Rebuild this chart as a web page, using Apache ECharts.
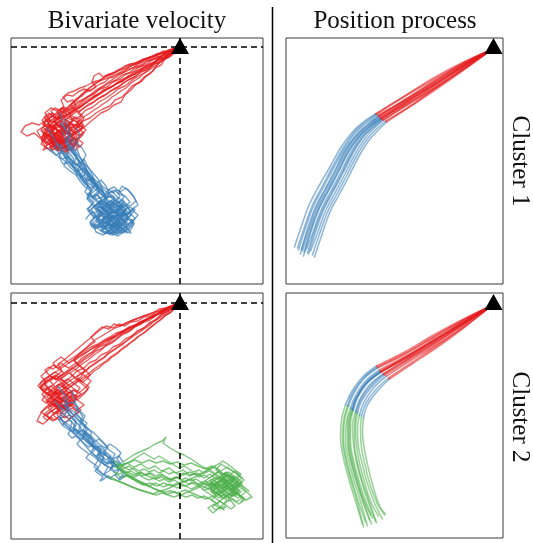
<!DOCTYPE html>
<html>
<head>
<meta charset="utf-8">
<script src="https://cdn.jsdelivr.net/npm/echarts@6/dist/echarts.min.js"></script>
<style>html,body{margin:0;padding:0;background:#fff}#c{width:533px;height:543px}</style>
</head>
<body>
<div id="c"></div>
<script>
// ---------- titles / labels ----------
const panelTitles = ['Bivariate velocity', 'Position process'];
const rowLabels = ['Cluster 1', 'Cluster 2'];

// ---------- Cluster 1: velocity trajectories (red phase, blue phase) ----------
const velC1Red = [
 [[0,0],[-6,-2],[-12,-5],[-17,-4],[-24,-8],[-30,-10],[-37,-13],[-43,-17],[-50,-19],[-57,-24],[-63,-27],[-70,-30],[-78,-33],[-85,-36],[-91,-42],[-97,-47],[-104,-52],[-110,-58],[-116,-63],[-121,-70],[-128,-66],[-134,-72],[-129,-79],[-136,-85],[-130,-91],[-123,-86],[-117,-93],[-110,-88],[-116,-80],[-124,-78],[-127,-82],[-131,-85],[-128,-89],[-124,-87],[-120,-90],[-116,-88],[-112,-91],[-115,-95],[-119,-93],[-123,-96],[-126,-100],[-122,-102],[-120,-97]],
 [[0,0],[-4,-5],[-9,-9],[-15,-12],[-19,-18],[-25,-21],[-30,-27],[-36,-30],[-41,-36],[-48,-39],[-53,-45],[-58,-50],[-65,-53],[-70,-59],[-77,-62],[-84,-66],[-90,-71],[-97,-74],[-103,-79],[-110,-77],[-115,-84],[-109,-90],[-102,-95],[-108,-101],[-115,-98],[-122,-104],[-128,-99],[-125,-91],[-132,-88],[-138,-94],[-135,-90],[-131,-93],[-127,-90],[-123,-93],[-119,-90],[-115,-93],[-118,-97],[-122,-95],[-126,-98],[-130,-96],[-134,-99],[-137,-103],[-133,-101]],
 [[0,0],[-7,-3],[-13,-7],[-20,-10],[-26,-15],[-33,-18],[-39,-22],[-46,-25],[-52,-30],[-59,-33],[-66,-38],[-72,-42],[-79,-46],[-86,-50],[-93,-55],[-99,-60],[-106,-63],[-113,-68],[-120,-71],[-127,-75],[-134,-73],[-141,-78],[-148,-76],[-155,-79],[-159,-85],[-153,-89],[-146,-86],[-140,-91],[-134,-86],[-128,-90],[-122,-84],[-127,-79],[-124,-83],[-120,-86],[-116,-83],[-112,-86],[-108,-83],[-111,-79],[-115,-77],[-119,-80],[-123,-77],[-126,-73],[-122,-70],[-118,-73],[-120,-76]],
 [[0,0],[-5,-1],[-11,-3],[-18,-6],[-24,-7],[-31,-11],[-37,-12],[-44,-16],[-51,-18],[-57,-21],[-64,-25],[-71,-27],[-77,-30],[-81,-26],[-86,-29],[-88,-35],[-84,-40],[-90,-44],[-96,-42],[-102,-45],[-107,-49],[-113,-48],[-119,-53],[-116,-60],[-123,-64],[-129,-61],[-135,-66],[-131,-73],[-124,-76],[-118,-73],[-112,-79],[-117,-86],[-124,-90],[-130,-84],[-137,-88],[-133,-95],[-129,-92],[-125,-95],[-121,-92],[-117,-95],[-113,-92],[-109,-95],[-112,-99],[-116,-101],[-120,-98],[-124,-101],[-128,-103],[-130,-100],[-126,-99]],
 [[0,0],[-6,-4],[-11,-10],[-17,-13],[-23,-18],[-27,-24],[-33,-28],[-38,-34],[-44,-37],[-49,-43],[-55,-48],[-59,-55],[-66,-58],[-72,-63],[-79,-66],[-85,-71],[-91,-76],[-97,-81],[-104,-85],[-110,-91],[-116,-96],[-123,-100],[-129,-104],[-135,-99],[-139,-92],[-133,-87],[-127,-92],[-121,-88],[-114,-92],[-108,-97],[-102,-92],[-98,-86],[-101,-89],[-105,-86],[-109,-83],[-113,-86],[-117,-83],[-121,-80],[-118,-76],[-114,-79],[-110,-76],[-106,-73],[-102,-76],[-100,-79],[-104,-81]],
 [[0,0],[-8,-4],[-14,-6],[-21,-11],[-28,-13],[-34,-18],[-41,-20],[-47,-25],[-54,-27],[-60,-32],[-67,-35],[-73,-40],[-80,-42],[-86,-47],[-93,-50],[-100,-55],[-106,-59],[-112,-64],[-118,-68],[-112,-74],[-105,-78],[-99,-73],[-96,-80],[-102,-86],[-108,-82],[-114,-87],[-121,-83],[-127,-88],[-122,-95],[-115,-100],[-109,-104],[-106,-100],[-110,-97],[-114,-94],[-118,-97],[-122,-94],[-126,-97],[-123,-101],[-119,-103],[-115,-100],[-112,-103],[-116,-105],[-113,-106]],
 [[0,0],[-5,-3],[-10,-7],[-16,-8],[-22,-13],[-27,-16],[-33,-20],[-40,-22],[-45,-27],[-52,-29],[-57,-34],[-64,-37],[-70,-41],[-77,-43],[-83,-49],[-89,-53],[-96,-57],[-102,-61],[-109,-66],[-115,-70],[-121,-75],[-128,-80],[-134,-77],[-139,-83],[-134,-90],[-139,-97],[-132,-102],[-126,-97],[-119,-101],[-113,-104],[-118,-104],[-121,-100],[-125,-97],[-129,-94],[-125,-91],[-121,-94],[-117,-91],[-113,-94],[-109,-97],[-106,-100],[-109,-103],[-114,-101],[-111,-106]],
 [[0,0],[-7,-2],[-14,-5],[-20,-7],[-27,-10],[-33,-12],[-40,-15],[-47,-18],[-53,-21],[-60,-23],[-67,-27],[-74,-29],[-80,-33],[-87,-35],[-94,-39],[-100,-41],[-106,-44],[-112,-46],[-117,-50],[-113,-55],[-107,-53],[-104,-59],[-110,-63],[-117,-60],[-123,-65],[-119,-71],[-126,-75],[-132,-80],[-138,-84],[-133,-89],[-127,-85],[-121,-90],[-124,-87],[-128,-90],[-132,-93],[-128,-96],[-124,-94],[-120,-97],[-116,-94],[-112,-91],[-108,-94],[-111,-98],[-114,-100],[-115,-95]],
 [[0,0],[-6,-5],[-13,-8],[-18,-14],[-25,-17],[-31,-22],[-36,-26],[-43,-30],[-49,-34],[-55,-39],[-62,-42],[-68,-47],[-74,-51],[-81,-55],[-87,-60],[-94,-63],[-100,-69],[-107,-73],[-113,-78],[-119,-82],[-125,-86],[-131,-82],[-137,-77],[-131,-71],[-125,-67],[-119,-64],[-113,-68],[-107,-72],[-101,-77],[-106,-84],[-111,-90],[-117,-94],[-123,-98],[-119,-101],[-115,-98],[-111,-101],[-107,-98],[-103,-95],[-106,-91],[-110,-94],[-114,-91],[-118,-94],[-122,-91],[-126,-94],[-130,-97],[-129,-102]],
 [[0,0],[-7,-4],[-12,-9],[-19,-12],[-26,-16],[-31,-21],[-38,-24],[-44,-29],[-50,-32],[-57,-36],[-63,-41],[-70,-44],[-76,-49],[-83,-52],[-89,-57],[-96,-61],[-102,-66],[-96,-71],[-100,-78],[-94,-83],[-100,-89],[-107,-85],[-113,-80],[-120,-85],[-126,-79],[-132,-85],[-137,-80],[-143,-84],[-139,-91],[-133,-96],[-127,-93],[-121,-98],[-118,-94],[-114,-91],[-110,-88],[-106,-91],[-102,-94],[-105,-98],[-109,-96],[-113,-99],[-117,-97],[-121,-100],[-124,-103],[-117,-104]],
 [[0,0],[-6,-3],[-12,-4],[-19,-9],[-25,-11],[-32,-14],[-38,-19],[-45,-21],[-51,-26],[-58,-28],[-64,-33],[-71,-36],[-77,-40],[-84,-43],[-90,-48],[-96,-52],[-103,-55],[-109,-60],[-115,-64],[-121,-69],[-127,-73],[-122,-79],[-116,-84],[-122,-90],[-129,-95],[-124,-101],[-118,-96],[-121,-92],[-125,-89],[-129,-86],[-133,-83],[-130,-79],[-126,-82],[-122,-79],[-118,-82],[-114,-85],[-110,-88],[-107,-92],[-110,-96],[-112,-100]],
 [[0,0],[-5,-4],[-11,-6],[-16,-11],[-23,-13],[-28,-18],[-35,-21],[-41,-25],[-47,-28],[-54,-32],[-60,-35],[-67,-39],[-73,-42],[-80,-46],[-86,-49],[-93,-53],[-99,-58],[-105,-62],[-111,-67],[-107,-74],[-113,-78],[-119,-75],[-125,-70],[-131,-66],[-136,-70],[-131,-77],[-126,-83],[-131,-89],[-125,-94],[-119,-91],[-115,-88],[-111,-85],[-107,-88],[-103,-85],[-100,-81],[-104,-78],[-108,-81],[-112,-78],[-116,-81],[-120,-84],[-124,-87],[-127,-92],[-124,-97]],
 [[0,0],[-5,-3],[-9,-5],[-14,-6],[-18,-9],[-23,-10],[-28,-13],[-33,-14],[-37,-17],[-42,-19],[-47,-21],[-52,-22],[-56,-25],[-61,-27],[-66,-30],[-71,-31],[-75,-35],[-80,-37],[-85,-40],[-89,-43],[-94,-45],[-98,-49],[-103,-52],[-107,-56],[-111,-60],[-114,-64],[-118,-62],[-121,-66],[-119,-70],[-124,-72],[-127,-69],[-131,-71],[-129,-76],[-125,-79],[-121,-77],[-117,-80],[-113,-78],[-110,-82],[-114,-85],[-118,-88],[-122,-86],[-126,-89],[-129,-93],[-125,-96],[-121,-94],[-117,-97],[-113,-95],[-109,-92],[-105,-95],[-102,-91],[-106,-87],[-103,-83],[-107,-79],[-111,-75],[-115,-72]],
 [[0,0],[-4,-4],[-8,-7],[-13,-9],[-17,-12],[-21,-15],[-26,-17],[-30,-20],[-34,-23],[-39,-25],[-43,-28],[-47,-31],[-52,-33],[-56,-36],[-60,-39],[-65,-41],[-69,-44],[-73,-47],[-78,-49],[-82,-52],[-86,-55],[-91,-57],[-95,-60],[-99,-63],[-104,-65],[-108,-68],[-112,-71],[-116,-74],[-113,-78],[-117,-81],[-121,-79],[-125,-82],[-128,-85],[-132,-83],[-135,-87],[-132,-90],[-128,-92],[-124,-91],[-120,-94],[-116,-92],[-112,-95],[-108,-98],[-104,-96],[-101,-99],[-104,-103],[-108,-101],[-112,-103],[-116,-100],[-120,-102],[-124,-99],[-128,-101],[-131,-97],[-135,-95],[-138,-91],[-136,-86],[-133,-81]],
 [[0,0],[-5,-2],[-10,-4],[-15,-5],[-20,-7],[-25,-9],[-30,-10],[-35,-12],[-40,-14],[-45,-16],[-50,-17],[-55,-19],[-60,-22],[-64,-24],[-69,-27],[-73,-29],[-78,-32],[-82,-35],[-86,-38],[-91,-41],[-95,-44],[-99,-48],[-102,-52],[-106,-55],[-110,-58],[-106,-62],[-102,-65],[-98,-68],[-101,-72],[-105,-70],[-109,-73],[-113,-70],[-117,-68],[-121,-71],[-125,-74],[-122,-78],[-118,-80],[-114,-83],[-117,-87],[-121,-85],[-125,-88],[-129,-86],[-133,-90],[-136,-94],[-133,-98],[-129,-96],[-125,-99],[-121,-97],[-117,-101],[-113,-99],[-109,-96],[-106,-92],[-109,-88],[-113,-91]],
 [[0,0],[-4,-3],[-9,-6],[-13,-8],[-18,-11],[-22,-13],[-27,-16],[-31,-18],[-36,-21],[-40,-24],[-45,-26],[-49,-29],[-54,-31],[-58,-34],[-63,-36],[-67,-39],[-72,-41],[-76,-44],[-80,-47],[-85,-49],[-89,-52],[-93,-55],[-97,-58],[-101,-61],[-105,-64],[-109,-67],[-113,-64],[-117,-61],[-121,-63],[-125,-61],[-129,-64],[-126,-68],[-130,-71],[-134,-74],[-137,-78],[-133,-80],[-129,-78],[-125,-81],[-121,-84],[-117,-87],[-113,-85],[-109,-88],[-105,-86],[-101,-84],[-98,-80],[-102,-77],[-106,-79],[-110,-77],[-114,-80],[-118,-78],[-122,-75],[-126,-78],[-130,-81],[-128,-85],[-124,-88],[-120,-91],[-124,-94],[-128,-97],[-124,-100],[-120,-103]],
 [[0,0],[-5,-4],[-10,-8],[-14,-11],[-19,-14],[-23,-18],[-28,-21],[-32,-24],[-37,-27],[-41,-31],[-46,-34],[-50,-37],[-54,-41],[-59,-44],[-63,-47],[-68,-50],[-72,-54],[-77,-57],[-81,-60],[-86,-63],[-90,-66],[-95,-69],[-99,-72],[-103,-75],[-100,-79],[-104,-82],[-108,-80],[-112,-83],[-109,-87],[-105,-90],[-101,-93],[-97,-96],[-100,-100],[-104,-98],[-108,-101],[-112,-104],[-116,-101],[-120,-98],[-124,-95],[-121,-91],[-117,-89],[-120,-85],[-124,-82],[-128,-80],[-132,-77],[-129,-73],[-125,-70],[-121,-72],[-117,-70],[-113,-67],[-116,-64],[-120,-66]],
 [[0,0],[-6,-2],[-11,-3],[-16,-6],[-22,-7],[-27,-10],[-32,-12],[-37,-15],[-42,-17],[-46,-20],[-51,-23],[-56,-25],[-61,-28],[-65,-31],[-70,-34],[-74,-37],[-79,-40],[-83,-44],[-87,-47],[-92,-50],[-96,-53],[-100,-57],[-104,-60],[-108,-63],[-112,-66],[-108,-69],[-104,-72],[-100,-75],[-97,-79],[-100,-83],[-96,-86],[-99,-90],[-103,-93],[-107,-91],[-111,-94],[-115,-97],[-119,-95],[-123,-92],[-127,-95],[-131,-93],[-134,-89],[-130,-86],[-127,-83],[-131,-80],[-135,-77],[-138,-73],[-134,-70],[-130,-67],[-126,-70],[-122,-67],[-118,-71],[-114,-74],[-110,-78],[-114,-81],[-118,-84]]
];
const velC1Blue = [
 [[-120,-97],[-114,-103],[-109,-100],[-104,-108],[-100,-115],[-96,-112],[-92,-120],[-88,-127],[-85,-135],[-79,-140],[-75,-148],[-68,-144],[-62,-151],[-70,-158],[-77,-155],[-83,-162],[-76,-168],[-68,-165],[-60,-170],[-55,-162],[-49,-168],[-56,-176],[-64,-180],[-72,-176],[-79,-183],[-71,-187],[-63,-184],[-58,-178],[-55,-174],[-59,-171],[-63,-168],[-67,-171],[-71,-168],[-75,-165],[-72,-161],[-68,-158],[-64,-161],[-60,-158],[-56,-155],[-60,-152],[-64,-149]],
 [[-133,-101],[-127,-106],[-121,-110],[-117,-117],[-111,-115],[-106,-121],[-103,-128],[-97,-132],[-92,-138],[-95,-145],[-89,-150],[-83,-147],[-78,-153],[-85,-159],[-91,-164],[-86,-171],[-79,-168],[-73,-174],[-80,-180],[-87,-177],[-84,-185],[-77,-188],[-70,-183],[-66,-176],[-73,-170],[-68,-162],[-61,-158],[-57,-161],[-54,-165],[-58,-168],[-62,-171],[-66,-168],[-70,-171],[-74,-168],[-78,-165],[-82,-162],[-79,-158],[-75,-155],[-71,-158]],
 [[-120,-76],[-115,-82],[-111,-89],[-114,-96],[-108,-102],[-103,-109],[-106,-116],[-100,-121],[-94,-126],[-90,-133],[-85,-139],[-80,-146],[-74,-151],[-67,-149],[-63,-156],[-57,-153],[-52,-160],[-58,-166],[-65,-163],[-71,-168],[-65,-175],[-58,-172],[-51,-177],[-55,-184],[-62,-189],[-69,-186],[-73,-183],[-77,-180],[-81,-177],[-78,-173],[-74,-170],[-70,-173],[-66,-170],[-62,-167],[-66,-164],[-70,-161],[-74,-158],[-78,-161]],
 [[-126,-99],[-122,-105],[-118,-112],[-112,-110],[-108,-117],[-102,-122],[-98,-129],[-93,-134],[-88,-131],[-84,-138],[-80,-145],[-86,-151],[-80,-156],[-73,-159],[-79,-165],[-85,-169],[-90,-175],[-84,-181],[-77,-179],[-71,-185],[-64,-181],[-60,-173],[-53,-170],[-47,-175],[-52,-182],[-59,-186],[-63,-183],[-67,-180],[-64,-176],[-60,-179],[-56,-176],[-52,-173],[-56,-170],[-60,-167],[-64,-170],[-68,-167],[-72,-164],[-69,-160]],
 [[-104,-81],[-100,-88],[-104,-95],[-98,-101],[-94,-108],[-98,-115],[-92,-120],[-87,-126],[-82,-132],[-78,-139],[-72,-143],[-66,-140],[-60,-145],[-54,-141],[-48,-147],[-44,-154],[-50,-159],[-57,-156],[-63,-162],[-58,-169],[-51,-166],[-45,-171],[-50,-178],[-57,-182],[-64,-178],[-70,-172],[-76,-176],[-80,-173],[-84,-170],[-80,-167],[-76,-164],[-72,-167],[-68,-164],[-64,-167],[-60,-164],[-63,-160],[-67,-157],[-71,-154],[-75,-151]],
 [[-113,-106],[-107,-116],[-101,-119],[-97,-125],[-91,-129],[-87,-136],[-82,-141],[-88,-146],[-93,-152],[-87,-158],[-80,-161],[-74,-157],[-68,-161],[-61,-166],[-67,-172],[-74,-169],[-81,-174],[-75,-180],[-68,-177],[-62,-183],[-56,-179],[-50,-184],[-46,-177],[-52,-172],[-58,-165],[-62,-162],[-66,-165],[-70,-162],[-74,-165],[-78,-162],[-75,-158],[-71,-155],[-67,-152],[-71,-149],[-75,-152],[-79,-155],[-83,-158]],
 [[-111,-106],[-106,-112],[-108,-119],[-102,-124],[-96,-121],[-91,-127],[-94,-134],[-88,-139],[-83,-144],[-77,-149],[-72,-154],[-78,-160],[-73,-166],[-66,-170],[-60,-165],[-54,-169],[-48,-163],[-42,-168],[-47,-174],[-54,-178],[-61,-175],[-68,-181],[-74,-185],[-68,-188],[-61,-186],[-58,-182],[-62,-179],[-66,-176],[-70,-179],[-74,-176],[-78,-173],[-75,-169],[-71,-172],[-67,-169],[-63,-172],[-59,-169],[-55,-166]],
 [[-115,-95],[-110,-101],[-114,-108],[-109,-113],[-104,-118],[-99,-115],[-94,-121],[-96,-128],[-91,-133],[-86,-140],[-90,-147],[-84,-152],[-77,-150],[-71,-146],[-65,-151],[-69,-158],[-63,-163],[-56,-160],[-50,-155],[-55,-149],[-62,-146],[-58,-139],[-52,-143],[-46,-150],[-42,-158],[-46,-161],[-50,-164],[-54,-167],[-58,-170],[-62,-167],[-66,-170],[-70,-167],[-74,-170],[-77,-174],[-73,-177],[-69,-180],[-65,-177]],
 [[-129,-102],[-124,-108],[-118,-105],[-113,-112],[-116,-119],[-110,-124],[-104,-128],[-100,-134],[-95,-140],[-89,-144],[-93,-151],[-87,-156],[-92,-162],[-86,-167],[-80,-172],[-86,-178],[-80,-183],[-73,-186],[-67,-181],[-71,-174],[-64,-170],[-58,-175],[-52,-169],[-57,-163],[-63,-158],[-69,-154],[-73,-157],[-77,-154],[-81,-157],[-78,-161],[-74,-164],[-70,-161],[-66,-164],[-62,-167],[-66,-170],[-70,-173],[-74,-176],[-70,-179]],
 [[-117,-104],[-112,-109],[-107,-114],[-101,-118],[-97,-124],[-100,-131],[-95,-137],[-89,-141],[-83,-138],[-78,-143],[-74,-150],[-80,-155],[-86,-160],[-82,-167],[-75,-170],[-69,-175],[-63,-171],[-57,-165],[-51,-160],[-45,-163],[-51,-170],[-57,-174],[-63,-179],[-56,-184],[-49,-186],[-54,-180],[-58,-177],[-62,-174],[-66,-171],[-70,-168],[-74,-165],[-78,-162],[-74,-159],[-70,-162],[-66,-159],[-62,-156],[-58,-159],[-54,-162]],
 [[-112,-100],[-108,-106],[-103,-111],[-99,-117],[-103,-124],[-98,-129],[-92,-134],[-87,-131],[-81,-136],[-77,-142],[-71,-147],[-76,-153],[-70,-158],[-64,-153],[-58,-158],[-63,-164],[-70,-167],[-76,-172],[-70,-178],[-64,-183],[-58,-180],[-53,-186],[-57,-183],[-61,-180],[-65,-177],[-69,-174],[-73,-171],[-77,-168],[-81,-165],[-78,-161],[-74,-164],[-70,-167],[-66,-164],[-62,-161]],
 [[-124,-97],[-119,-103],[-121,-110],[-115,-114],[-110,-120],[-105,-125],[-99,-130],[-94,-127],[-89,-132],[-84,-137],[-79,-133],[-74,-139],[-71,-146],[-65,-143],[-60,-149],[-65,-156],[-72,-160],[-66,-166],[-60,-162],[-54,-167],[-60,-173],[-67,-177],[-73,-182],[-79,-178],[-84,-172],[-80,-169],[-76,-166],[-72,-169],[-68,-172],[-64,-175],[-60,-178],[-63,-182],[-67,-179],[-71,-182],[-75,-179],[-79,-176],[-83,-179]],
 [[-115,-72],[-112,-80],[-109,-88],[-106,-95],[-103,-102],[-100,-110],[-96,-116],[-93,-123],[-89,-129],[-85,-135],[-81,-141],[-77,-146],[-74,-150],[-70,-148],[-66,-152],[-68,-156],[-72,-158],[-75,-162],[-71,-165],[-67,-163],[-63,-166],[-60,-170],[-64,-173],[-68,-171],[-72,-174],[-69,-178],[-65,-180],[-61,-177],[-57,-174],[-53,-177],[-55,-181],[-59,-183],[-63,-186],[-67,-184],[-71,-181],[-75,-178],[-79,-175],[-82,-171],[-79,-167],[-83,-163],[-86,-159],[-82,-156],[-78,-153]],
 [[-133,-81],[-128,-88],[-124,-95],[-119,-101],[-115,-108],[-111,-114],[-106,-120],[-101,-126],[-97,-132],[-92,-138],[-88,-143],[-91,-147],[-87,-151],[-83,-148],[-79,-152],[-82,-156],[-86,-159],[-89,-163],[-85,-166],[-81,-163],[-77,-166],[-80,-170],[-84,-173],[-80,-177],[-76,-174],[-72,-177],[-75,-181],[-79,-184],[-75,-187],[-71,-184],[-67,-187],[-64,-183],[-61,-179],[-65,-176],[-62,-172],[-58,-169],[-55,-165],[-59,-162],[-56,-158],[-52,-161],[-49,-165],[-46,-161]],
 [[-113,-91],[-110,-98],[-107,-105],[-103,-111],[-99,-117],[-95,-123],[-91,-128],[-87,-134],[-83,-139],[-79,-143],[-75,-147],[-71,-143],[-67,-146],[-63,-143],[-59,-146],[-56,-150],[-59,-154],[-63,-157],[-60,-161],[-56,-158],[-52,-161],[-49,-165],[-53,-168],[-57,-166],[-61,-169],[-58,-173],[-54,-176],[-58,-179],[-62,-176],[-66,-179],[-69,-183],[-65,-186],[-61,-183],[-57,-186],[-53,-183],[-49,-180],[-46,-176],[-49,-172]],
 [[-120,-103],[-116,-109],[-112,-115],[-107,-120],[-103,-125],[-99,-130],[-96,-135],[-92,-140],[-89,-144],[-93,-148],[-90,-152],[-86,-155],[-89,-159],[-93,-162],[-90,-166],[-86,-169],[-82,-172],[-86,-175],[-89,-179],[-85,-182],[-81,-179],[-77,-182],[-73,-179],[-70,-175],[-74,-172],[-70,-169],[-66,-172],[-62,-175],[-58,-172],[-61,-168],[-64,-164],[-60,-161],[-57,-157],[-61,-154],[-65,-157],[-69,-154],[-73,-157],[-77,-160],[-74,-164]],
 [[-120,-66],[-118,-74],[-115,-81],[-112,-88],[-109,-95],[-106,-102],[-102,-108],[-98,-114],[-95,-120],[-91,-126],[-87,-132],[-84,-138],[-80,-143],[-77,-148],[-73,-152],[-77,-156],[-80,-160],[-76,-163],[-72,-160],[-68,-163],[-71,-167],[-75,-170],[-78,-174],[-74,-177],[-70,-174],[-66,-177],[-62,-180],[-66,-183],[-70,-186],[-74,-183],[-78,-180],[-82,-177],[-86,-180],[-90,-177],[-87,-173],[-84,-169],[-87,-165],[-91,-168],[-94,-172]],
 [[-118,-84],[-115,-91],[-112,-98],[-108,-104],[-104,-110],[-101,-116],[-97,-121],[-93,-127],[-89,-133],[-85,-138],[-81,-144],[-85,-147],[-88,-151],[-84,-154],[-80,-157],[-84,-161],[-80,-164],[-76,-167],[-72,-164],[-69,-160],[-65,-157],[-61,-160],[-58,-164],[-54,-167],[-51,-171],[-55,-174],[-59,-171],[-63,-174],[-66,-178],[-70,-181],[-66,-184],[-62,-187],[-58,-184],[-55,-180],[-51,-177],[-48,-173]]
];

// ---------- Cluster 2: velocity trajectories (red, blue, green phases) ----------
const velC2Red = [
 [[0,0],[-6,-4],[-12,-6],[-18,-10],[-24,-12],[-30,-17],[-36,-19],[-43,-22],[-49,-26],[-55,-28],[-62,-33],[-68,-36],[-74,-41],[-81,-44],[-87,-49],[-93,-53],[-99,-58],[-105,-63],[-112,-67],[-118,-72],[-124,-77],[-130,-73],[-136,-79],[-131,-86],[-125,-91],[-118,-87],[-112,-93],[-118,-99],[-124,-104],[-128,-101],[-132,-98],[-128,-95],[-124,-98],[-120,-95],[-116,-98],[-112,-101],[-115,-105],[-119,-103],[-123,-106],[-119,-110]],
 [[0,0],[-7,-2],[-14,-5],[-21,-6],[-27,-10],[-34,-12],[-41,-15],[-47,-17],[-54,-20],[-60,-23],[-66,-21],[-71,-26],[-78,-24],[-84,-29],[-89,-34],[-85,-39],[-91,-43],[-97,-48],[-103,-52],[-109,-56],[-115,-60],[-121,-65],[-127,-62],[-133,-68],[-139,-73],[-134,-79],[-140,-85],[-134,-91],[-128,-87],[-122,-92],[-128,-98],[-124,-95],[-120,-92],[-116,-89],[-112,-92],[-108,-95],[-111,-99],[-115,-97],[-119,-100],[-123,-98],[-126,-101],[-122,-103]],
 [[0,0],[-5,-5],[-10,-10],[-16,-13],[-21,-18],[-27,-22],[-32,-27],[-38,-31],[-44,-35],[-50,-40],[-56,-44],[-62,-49],[-68,-53],[-74,-58],[-80,-62],[-86,-66],[-92,-71],[-98,-75],[-104,-80],[-110,-84],[-116,-89],[-122,-94],[-128,-99],[-134,-104],[-139,-110],[-143,-118],[-137,-121],[-131,-116],[-126,-110],[-120,-106],[-124,-103],[-128,-100],[-125,-96],[-121,-93],[-117,-96],[-113,-93],[-109,-96],[-105,-99],[-109,-102],[-113,-105],[-117,-103],[-114,-101]],
 [[0,0],[-6,-3],[-13,-6],[-19,-8],[-25,-13],[-31,-15],[-38,-20],[-44,-23],[-50,-28],[-57,-30],[-62,-35],[-68,-40],[-75,-43],[-80,-48],[-86,-52],[-92,-57],[-98,-61],[-104,-66],[-110,-70],[-104,-76],[-98,-81],[-92,-86],[-97,-92],[-103,-97],[-109,-93],[-115,-98],[-121,-94],[-127,-99],[-133,-94],[-128,-88],[-132,-85],[-136,-82],[-132,-79],[-128,-76],[-124,-73],[-120,-76],[-116,-79],[-112,-82],[-116,-85],[-120,-88],[-124,-86],[-122,-83]],
 [[0,0],[-5,-3],[-11,-4],[-17,-8],[-23,-9],[-30,-13],[-36,-14],[-42,-18],[-49,-19],[-55,-23],[-61,-21],[-67,-25],[-74,-23],[-80,-27],[-86,-32],[-92,-37],[-98,-42],[-104,-47],[-110,-52],[-116,-57],[-122,-61],[-118,-68],[-124,-73],[-130,-78],[-125,-84],[-119,-80],[-113,-85],[-107,-90],[-112,-96],[-108,-99],[-104,-96],[-100,-99],[-96,-102],[-100,-105],[-104,-108],[-108,-105],[-112,-108],[-116,-105],[-120,-108],[-122,-104],[-118,-101]],
 [[0,0],[-7,-3],[-13,-7],[-20,-9],[-26,-14],[-33,-16],[-39,-21],[-46,-24],[-52,-29],[-58,-32],[-65,-37],[-71,-40],[-77,-45],[-84,-48],[-90,-53],[-96,-57],[-102,-62],[-108,-66],[-114,-71],[-120,-76],[-126,-81],[-132,-86],[-138,-91],[-133,-97],[-127,-102],[-121,-107],[-127,-112],[-121,-117],[-115,-113],[-111,-116],[-107,-113],[-103,-110],[-99,-107],[-103,-104],[-107,-101],[-111,-104],[-115,-101],[-119,-104],[-115,-107],[-112,-106],[-109,-109]],
 [[0,0],[-6,-4],[-12,-8],[-18,-11],[-24,-16],[-29,-20],[-35,-24],[-41,-28],[-47,-32],[-52,-37],[-58,-41],[-64,-45],[-70,-49],[-76,-54],[-82,-58],[-88,-62],[-94,-67],[-100,-71],[-106,-75],[-112,-79],[-118,-83],[-112,-89],[-106,-93],[-100,-89],[-94,-84],[-89,-78],[-95,-73],[-101,-69],[-107,-65],[-113,-69],[-119,-73],[-125,-69],[-131,-73],[-137,-77],[-142,-83],[-136,-88],[-130,-93],[-126,-90],[-122,-87],[-118,-90],[-114,-93],[-110,-90],[-106,-87],[-102,-90],[-105,-94],[-109,-97],[-113,-100],[-117,-97],[-121,-100],[-125,-98]],
 [[0,0],[-7,-5],[-12,-8],[-19,-12],[-24,-17],[-31,-20],[-36,-25],[-43,-28],[-48,-33],[-55,-36],[-60,-41],[-67,-44],[-72,-49],[-79,-52],[-84,-57],[-91,-60],[-96,-65],[-103,-68],[-108,-73],[-114,-78],[-120,-82],[-126,-87],[-121,-93],[-115,-98],[-109,-102],[-115,-107],[-121,-103],[-127,-107],[-133,-112],[-128,-117],[-132,-114],[-136,-111],[-132,-108],[-128,-105],[-124,-102],[-120,-99],[-116,-102],[-112,-105],[-116,-108],[-120,-111],[-124,-109],[-122,-113]],
 [[0,0],[-5,-2],[-11,-5],[-17,-7],[-22,-11],[-28,-13],[-34,-17],[-40,-19],[-46,-23],[-52,-25],[-57,-29],[-63,-32],[-69,-36],[-75,-38],[-81,-42],[-87,-45],[-93,-49],[-99,-52],[-105,-56],[-111,-60],[-117,-64],[-123,-68],[-129,-72],[-135,-76],[-140,-81],[-135,-86],[-129,-83],[-123,-88],[-128,-93],[-134,-98],[-129,-104],[-123,-99],[-119,-102],[-115,-105],[-111,-102],[-107,-99],[-103,-96],[-106,-92],[-110,-89],[-114,-92],[-118,-89],[-122,-92],[-121,-96],[-117,-95]],
 [[0,0],[-6,-4],[-13,-6],[-19,-10],[-26,-12],[-32,-16],[-38,-18],[-45,-22],[-51,-24],[-57,-28],[-64,-30],[-70,-34],[-76,-37],[-82,-41],[-89,-44],[-95,-48],[-101,-52],[-106,-57],[-101,-62],[-95,-67],[-99,-74],[-105,-78],[-111,-82],[-117,-87],[-123,-91],[-129,-95],[-124,-100],[-118,-104],[-112,-108],[-116,-111],[-120,-108],[-124,-105],[-128,-108],[-132,-105],[-128,-102],[-124,-99],[-120,-96],[-116,-99],[-112,-102],[-109,-100],[-106,-104]],
 [[0,0],[-5,-3],[-10,-5],[-15,-8],[-20,-10],[-25,-13],[-30,-15],[-35,-18],[-40,-20],[-45,-23],[-50,-25],[-55,-28],[-60,-30],[-65,-33],[-70,-36],[-74,-39],[-79,-42],[-84,-45],[-88,-49],[-93,-52],[-98,-55],[-102,-59],[-107,-62],[-111,-65],[-115,-63],[-119,-60],[-123,-63],[-127,-66],[-131,-64],[-135,-67],[-132,-71],[-128,-74],[-124,-72],[-120,-75],[-116,-78],[-112,-76],[-108,-79],[-104,-82],[-100,-85],[-103,-89],[-107,-87],[-111,-90],[-115,-88],[-119,-91],[-123,-89],[-127,-92],[-131,-90],[-135,-93],[-138,-97],[-134,-100],[-130,-98],[-126,-101],[-122,-104],[-118,-102],[-114,-105]],
 [[0,0],[-4,-4],[-9,-7],[-13,-10],[-18,-13],[-22,-16],[-27,-19],[-31,-23],[-36,-26],[-40,-29],[-45,-32],[-49,-35],[-54,-38],[-58,-42],[-63,-45],[-67,-48],[-72,-51],[-76,-55],[-81,-58],[-85,-61],[-90,-64],[-94,-68],[-99,-71],[-103,-74],[-99,-78],[-95,-81],[-91,-84],[-94,-88],[-98,-91],[-102,-94],[-106,-92],[-110,-95],[-114,-98],[-118,-96],[-122,-99],[-126,-97],[-130,-94],[-127,-90],[-123,-87],[-119,-84],[-115,-82],[-119,-79],[-123,-76],[-127,-74],[-131,-77],[-135,-80],[-139,-84],[-136,-88],[-132,-91],[-128,-94],[-124,-93],[-120,-96],[-116,-94],[-112,-91],[-108,-88]],
 [[0,0],[-6,-2],[-11,-4],[-17,-6],[-22,-8],[-28,-10],[-33,-12],[-39,-14],[-44,-16],[-49,-18],[-55,-21],[-60,-23],[-65,-25],[-70,-28],[-75,-31],[-80,-34],[-85,-37],[-90,-41],[-94,-45],[-99,-49],[-103,-53],[-107,-57],[-111,-60],[-115,-57],[-119,-54],[-123,-57],[-127,-60],[-124,-64],[-120,-67],[-116,-70],[-120,-73],[-124,-76],[-128,-74],[-132,-77],[-136,-80],[-140,-84],[-137,-88],[-133,-86],[-129,-89],[-125,-92],[-121,-90],[-117,-93],[-113,-96],[-109,-99],[-113,-102],[-117,-105],[-121,-108],[-125,-111],[-129,-108],[-133,-111],[-137,-114],[-133,-117],[-129,-114],[-125,-117],[-121,-114]],
 [[0,0],[-5,-5],[-9,-9],[-14,-12],[-18,-16],[-23,-19],[-27,-23],[-32,-26],[-36,-30],[-41,-33],[-45,-37],[-50,-40],[-54,-44],[-59,-47],[-63,-51],[-68,-54],[-72,-58],[-77,-61],[-81,-65],[-86,-68],[-90,-72],[-95,-75],[-99,-78],[-103,-76],[-107,-73],[-111,-70],[-115,-73],[-119,-76],[-115,-79],[-111,-82],[-107,-85],[-103,-88],[-99,-91],[-103,-94],[-107,-97],[-111,-100],[-115,-103],[-119,-106],[-123,-103],[-127,-100],[-131,-103],[-135,-106],[-139,-109],[-135,-112],[-131,-115],[-127,-118],[-123,-115],[-119,-112],[-115,-115],[-111,-112]],
 [[0,0],[-6,-3],[-12,-5],[-17,-8],[-23,-11],[-28,-14],[-34,-16],[-39,-19],[-45,-22],[-50,-25],[-56,-27],[-61,-30],[-66,-33],[-72,-36],[-77,-39],[-82,-42],[-87,-45],[-92,-48],[-97,-52],[-102,-55],[-106,-58],[-102,-62],[-98,-65],[-94,-68],[-90,-72],[-93,-76],[-97,-79],[-101,-77],[-105,-80],[-109,-83],[-113,-86],[-117,-84],[-121,-81],[-125,-84],[-129,-87],[-133,-90],[-129,-93],[-125,-96],[-121,-99],[-117,-97],[-113,-100],[-109,-103],[-105,-106],[-101,-109],[-105,-112],[-109,-115],[-113,-118],[-117,-121]]
];
const velC2Blue = [
 [[-119,-110],[-113,-114],[-108,-119],[-110,-126],[-104,-131],[-99,-128],[-94,-133],[-90,-140],[-85,-145],[-79,-143],[-74,-149],[-78,-156],[-72,-161],[-66,-158]],
 [[-122,-103],[-117,-108],[-120,-115],[-115,-120],[-110,-117],[-105,-123],[-107,-130],[-101,-135],[-96,-141],[-91,-147],[-86,-152],[-80,-156],[-75,-162],[-69,-165],[-63,-161]],
 [[-114,-101],[-109,-107],[-103,-111],[-98,-117],[-101,-124],[-96,-129],[-90,-133],[-86,-139],[-81,-136],[-76,-141],[-71,-147],[-65,-151],[-69,-158],[-63,-163]],
 [[-122,-83],[-117,-90],[-112,-96],[-115,-103],[-110,-109],[-104,-114],[-100,-120],[-94,-125],[-97,-132],[-92,-138],[-86,-143],[-80,-148],[-84,-155],[-78,-160],[-72,-164],[-76,-171],[-70,-175],[-64,-171]],
 [[-118,-101],[-112,-105],[-115,-112],[-121,-117],[-117,-123],[-111,-127],[-105,-131],[-99,-136],[-94,-132],[-89,-138],[-84,-143],[-78,-147],[-73,-152],[-67,-156],[-61,-153],[-57,-159]],
 [[-109,-109],[-104,-115],[-98,-119],[-93,-125],[-88,-130],[-92,-137],[-87,-142],[-81,-146],[-76,-151],[-70,-156],[-65,-161],[-60,-166],[-65,-172],[-60,-177],[-54,-172]],
 [[-125,-98],[-120,-104],[-114,-108],[-109,-113],[-104,-118],[-107,-125],[-102,-130],[-96,-134],[-91,-139],[-86,-144],[-90,-151],[-84,-155],[-79,-160],[-83,-167],[-77,-172],[-71,-168],[-66,-163]],
 [[-122,-113],[-117,-118],[-111,-122],[-106,-127],[-101,-132],[-95,-137],[-90,-142],[-84,-146],[-78,-150],[-82,-157],[-86,-164],[-80,-168],[-75,-173],[-69,-176]],
 [[-117,-95],[-113,-101],[-107,-99],[-102,-104],[-105,-111],[-99,-116],[-93,-120],[-97,-127],[-91,-131],[-86,-136],[-81,-141],[-75,-145],[-70,-141],[-64,-145],[-59,-150],[-63,-156],[-58,-162]],
 [[-106,-104],[-100,-108],[-95,-113],[-98,-120],[-93,-125],[-87,-129],[-82,-134],[-77,-139],[-72,-144],[-77,-150],[-71,-155],[-66,-160],[-61,-165],[-56,-170],[-61,-176],[-55,-172]],
 [[-114,-105],[-111,-111],[-107,-116],[-103,-121],[-106,-125],[-102,-129],[-98,-127],[-94,-131],[-97,-135],[-93,-139],[-89,-142],[-85,-146],[-88,-150],[-84,-153],[-80,-151],[-76,-155],[-79,-159],[-75,-162],[-71,-159],[-67,-162],[-70,-166],[-66,-169]],
 [[-108,-88],[-106,-95],[-104,-102],[-101,-108],[-97,-114],[-100,-118],[-96,-122],[-92,-126],[-95,-130],[-91,-134],[-87,-138],[-83,-142],[-79,-146],[-82,-150],[-78,-154],[-74,-157],[-70,-154],[-66,-157],[-69,-161],[-65,-164],[-61,-162]],
 [[-121,-114],[-117,-119],[-113,-123],[-109,-127],[-112,-131],[-108,-135],[-104,-133],[-100,-137],[-103,-141],[-99,-145],[-95,-148],[-91,-151],[-94,-155],[-90,-158],[-86,-161],[-82,-164],[-85,-168],[-81,-171],[-77,-174],[-80,-178],[-76,-176],[-72,-173]],
 [[-111,-112],[-107,-116],[-103,-120],[-99,-124],[-102,-128],[-98,-132],[-94,-130],[-90,-134],[-86,-138],[-89,-142],[-85,-146],[-81,-149],[-77,-152],[-73,-150],[-69,-153],[-72,-157],[-68,-160],[-64,-158],[-60,-161],[-63,-165],[-59,-168]],
 [[-117,-121],[-112,-124],[-108,-128],[-104,-126],[-100,-130],[-96,-134],[-99,-138],[-95,-141],[-91,-144],[-87,-142],[-83,-146],[-79,-149],[-82,-153],[-78,-157],[-74,-160],[-70,-158],[-66,-161],[-69,-165],[-65,-168],[-61,-166]]
];
const velC2Green = [
 [[-66,-158],[-60,-162],[-53,-160],[-46,-164],[-39,-161],[-32,-166],[-25,-163],[-18,-168],[-11,-165],[-4,-170],[3,-167],[10,-172],[17,-170],[24,-175],[30,-171],[36,-176],[43,-173],[48,-179],[42,-184],[36,-180],[30,-186],[37,-190],[44,-187],[51,-182],[57,-187],[52,-193],[48,-190],[44,-187],[40,-184],[44,-181],[48,-178],[52,-175],[56,-178],[60,-181],[56,-184],[52,-187],[48,-184]],
 [[-63,-161],[-57,-166],[-51,-163],[-44,-168],[-38,-173],[-31,-170],[-24,-175],[-17,-172],[-10,-177],[-3,-174],[4,-179],[11,-176],[18,-181],[25,-178],[31,-183],[38,-180],[44,-185],[50,-180],[55,-174],[49,-169],[42,-172],[36,-167],[41,-161],[47,-165],[54,-169],[58,-172],[62,-175],[58,-178],[54,-181],[50,-184],[46,-181],[42,-178],[38,-181],[34,-184],[38,-187],[42,-190]],
 [[-63,-163],[-57,-168],[-51,-173],[-44,-176],[-37,-181],[-30,-184],[-23,-187],[-16,-189],[-9,-188],[-2,-190],[5,-187],[12,-190],[19,-193],[26,-196],[33,-193],[39,-198],[46,-202],[40,-206],[34,-201],[28,-205],[33,-210],[39,-205],[46,-199],[53,-196],[59,-201],[65,-197],[61,-194],[57,-191],[53,-188],[49,-185],[45,-182],[41,-179],[37,-176],[41,-173],[45,-170],[49,-173],[53,-176]],
 [[-64,-171],[-58,-175],[-52,-172],[-45,-177],[-38,-180],[-31,-183],[-24,-180],[-17,-184],[-10,-181],[-3,-185],[4,-182],[11,-186],[18,-183],[25,-187],[32,-184],[38,-188],[34,-194],[28,-190],[22,-186],[28,-181],[34,-177],[40,-182],[46,-178],[52,-183],[58,-178],[63,-183],[69,-188],[65,-185],[61,-182],[57,-185],[53,-188],[49,-185],[45,-188],[41,-185],[37,-182],[33,-185],[29,-182],[33,-179]],
 [[-57,-159],[-51,-155],[-45,-151],[-38,-148],[-31,-145],[-25,-141],[-18,-138],[-14,-134],[-17,-140],[-10,-145],[-3,-149],[4,-152],[11,-156],[17,-160],[23,-164],[30,-167],[36,-171],[42,-175],[48,-172],[53,-177],[47,-182],[41,-186],[35,-183],[30,-178],[36,-174],[43,-179],[47,-182],[51,-185],[55,-188],[51,-191],[47,-194],[43,-191],[39,-188],[35,-191],[31,-188],[35,-185],[39,-182]],
 [[-54,-172],[-48,-176],[-41,-178],[-34,-181],[-27,-185],[-20,-188],[-13,-186],[-6,-183],[1,-180],[8,-177],[15,-174],[22,-171],[28,-167],[35,-164],[41,-168],[47,-164],[53,-168],[59,-172],[64,-177],[58,-181],[52,-185],[57,-190],[62,-195],[56,-199],[50,-195],[46,-192],[42,-189],[38,-186],[34,-183],[38,-180],[42,-177],[46,-174],[50,-177],[54,-180],[58,-183],[62,-180]],
 [[-66,-163],[-60,-166],[-53,-169],[-46,-172],[-39,-170],[-32,-173],[-25,-176],[-18,-174],[-11,-177],[-4,-175],[3,-172],[10,-169],[17,-172],[24,-169],[30,-165],[37,-162],[43,-158],[49,-162],[55,-167],[61,-171],[57,-177],[51,-173],[45,-178],[39,-174],[35,-177],[31,-180],[35,-183],[39,-186],[43,-189],[47,-186],[51,-189],[55,-192],[59,-189],[55,-186],[51,-183]],
 [[-69,-176],[-62,-178],[-55,-181],[-48,-184],[-41,-187],[-34,-189],[-27,-191],[-20,-188],[-13,-191],[-6,-189],[1,-192],[8,-189],[15,-186],[22,-183],[29,-186],[35,-190],[41,-193],[47,-189],[53,-185],[49,-179],[43,-175],[37,-179],[31,-182],[25,-178],[31,-174],[35,-171],[39,-168],[43,-171],[47,-174],[51,-171],[55,-168],[59,-171],[56,-175],[52,-178],[48,-181],[44,-184]],
 [[-58,-162],[-52,-160],[-45,-157],[-38,-160],[-31,-157],[-24,-160],[-17,-158],[-10,-161],[-3,-159],[4,-162],[11,-160],[18,-163],[25,-166],[32,-163],[38,-167],[44,-171],[50,-175],[56,-179],[62,-184],[67,-189],[72,-194],[66,-197],[60,-193],[54,-189],[48,-192],[42,-196],[37,-201],[31,-197],[35,-194],[39,-191],[43,-188],[47,-185],[51,-188],[55,-185],[59,-182],[55,-179],[51,-176],[47,-179],[43,-182]],
 [[-55,-172],[-49,-175],[-43,-179],[-37,-182],[-30,-180],[-23,-183],[-16,-180],[-9,-183],[-2,-180],[5,-183],[12,-180],[19,-183],[26,-180],[32,-176],[38,-180],[44,-176],[50,-180],[56,-184],[61,-189],[55,-193],[48,-191],[43,-196],[38,-191],[34,-188],[30,-185],[34,-182],[38,-179],[42,-176],[46,-179],[50,-176],[54,-173],[58,-176],[62,-179],[58,-182]],
 [[-66,-169],[-61,-171],[-56,-169],[-51,-172],[-46,-174],[-41,-172],[-36,-175],[-31,-177],[-26,-175],[-21,-178],[-16,-176],[-11,-179],[-6,-177],[-1,-180],[4,-178],[9,-181],[14,-179],[19,-182],[24,-180],[29,-183],[33,-180],[37,-184],[41,-181],[45,-185],[49,-182],[46,-178],[42,-175],[46,-171],[50,-174],[54,-177],[51,-181],[55,-184],[59,-187],[56,-191],[52,-188],[48,-191],[44,-188],[40,-191]],
 [[-61,-162],[-56,-164],[-51,-167],[-46,-165],[-41,-168],[-36,-166],[-31,-169],[-26,-167],[-21,-170],[-16,-168],[-11,-171],[-6,-169],[-1,-172],[4,-170],[9,-173],[14,-171],[19,-174],[24,-172],[29,-175],[34,-172],[38,-169],[42,-172],[46,-169],[50,-172],[54,-175],[58,-179],[55,-183],[51,-186],[47,-183],[43,-186],[39,-183],[35,-186],[31,-189],[35,-192],[39,-195],[43,-192],[47,-195]],
 [[-72,-173],[-66,-176],[-60,-179],[-54,-181],[-48,-184],[-42,-186],[-36,-188],[-30,-190],[-24,-192],[-18,-190],[-12,-192],[-6,-194],[0,-192],[6,-194],[12,-192],[18,-195],[24,-193],[30,-196],[35,-199],[39,-203],[43,-206],[47,-203],[51,-206],[55,-203],[52,-199],[48,-196],[52,-192],[56,-189],[60,-192],[64,-195],[61,-199]],
 [[-59,-168],[-54,-170],[-49,-168],[-44,-171],[-39,-169],[-34,-172],[-29,-170],[-24,-173],[-19,-171],[-14,-174],[-9,-176],[-4,-174],[1,-177],[6,-175],[11,-178],[16,-176],[21,-179],[26,-182],[31,-185],[35,-188],[39,-191],[43,-194],[47,-197],[44,-201],[40,-198],[36,-201],[32,-204],[36,-207],[40,-204],[44,-207]],
 [[-61,-166],[-56,-162],[-51,-159],[-46,-156],[-41,-153],[-36,-150],[-31,-153],[-26,-156],[-21,-153],[-16,-156],[-11,-159],[-6,-162],[-1,-165],[4,-163],[9,-166],[14,-169],[19,-167],[24,-170],[29,-168],[34,-171],[38,-174],[42,-177],[46,-180],[50,-177],[54,-180],[58,-183],[62,-186],[66,-189],[62,-192],[58,-195],[54,-192],[50,-195],[46,-192]]
];

// ---------- Cluster 1: position paths ----------
const posC1Red = [
 [[-1,-3],[-30,-16],[-60,-32],[-89,-50],[-118,-68]],
 [[-1,-3],[-29,-19],[-58,-37],[-87,-54],[-116,-69]],
 [[-1,-3],[-29,-17],[-58,-34],[-86,-52],[-115,-70]],
 [[-1,-3],[-29,-20],[-57,-38],[-86,-55],[-114,-71]],
 [[-1,-3],[-29,-18],[-57,-35],[-85,-53],[-113,-72]],
 [[-1,-3],[-28,-21],[-56,-40],[-85,-57],[-113,-72]],
 [[-1,-3],[-28,-19],[-56,-36],[-84,-54],[-112,-73]],
 [[-1,-3],[-28,-22],[-56,-41],[-84,-58],[-111,-74]],
 [[-1,-3],[-28,-20],[-55,-38],[-83,-56],[-110,-74]],
 [[-1,-3],[-27,-22],[-54,-41],[-81,-59],[-108,-75]],
 [[-1,-3],[-27,-21],[-54,-39],[-80,-58],[-107,-76]],
 [[-1,-3],[-30,-17],[-59,-33],[-88,-50],[-117,-68]],
 [[-1,-3],[-28,-18],[-56,-37],[-84,-55],[-112,-73]],
 [[-1,-3],[-29,-17],[-58,-35],[-86,-52],[-114,-70]]
];
const posC1Blue = [
 [[-118,-68],[-130,-76],[-141,-86],[-153,-102],[-163,-120],[-174,-139],[-184,-158],[-192,-180],[-199,-201]],
 [[-116,-69],[-128,-78],[-139,-88],[-150,-104],[-160,-122],[-170,-141],[-180,-160],[-188,-182],[-195,-204]],
 [[-115,-70],[-126,-79],[-137,-89],[-149,-105],[-158,-123],[-168,-142],[-178,-161],[-186,-183],[-193,-208]],
 [[-114,-71],[-125,-80],[-136,-90],[-147,-106],[-156,-124],[-166,-143],[-176,-162],[-184,-184],[-191,-205]],
 [[-113,-72],[-124,-81],[-135,-91],[-146,-107],[-155,-125],[-165,-144],[-175,-163],[-183,-185],[-190,-210]],
 [[-113,-72],[-124,-80],[-134,-90],[-145,-106],[-154,-124],[-164,-143],[-174,-162],[-182,-184],[-189,-206]],
 [[-112,-73],[-123,-81],[-133,-91],[-143,-107],[-152,-125],[-162,-144],[-172,-163],[-180,-185],[-187,-203]],
 [[-111,-74],[-121,-82],[-131,-92],[-141,-108],[-150,-126],[-160,-145],[-170,-164],[-178,-186],[-185,-208]],
 [[-110,-74],[-120,-83],[-129,-93],[-139,-109],[-148,-127],[-158,-146],[-168,-165],[-176,-187],[-183,-205]],
 [[-108,-75],[-118,-84],[-127,-94],[-137,-110],[-146,-128],[-156,-147],[-166,-166],[-174,-188],[-181,-209]],
 [[-107,-76],[-116,-85],[-125,-95],[-135,-111],[-144,-129],[-154,-148],[-164,-167],[-172,-190],[-179,-211]],
 [[-117,-68],[-129,-77],[-140,-87],[-151,-103],[-161,-121],[-171,-140],[-181,-159],[-189,-181],[-196,-202]],
 [[-112,-73],[-122,-82],[-132,-92],[-142,-108],[-151,-126],[-161,-145],[-171,-164],[-179,-185],[-186,-207]],
 [[-114,-70],[-126,-79],[-137,-89],[-148,-105],[-157,-123],[-167,-142],[-177,-161],[-185,-183],[-192,-203]]
];

// ---------- Cluster 2: position paths ----------
const posC2Red = [
 [[-1,-3],[-30,-17],[-60,-33],[-89,-50],[-117,-64]],
 [[-1,-3],[-30,-18],[-59,-35],[-88,-52],[-116,-66]],
 [[-1,-3],[-29,-19],[-58,-36],[-86,-53],[-114,-68]],
 [[-1,-3],[-29,-20],[-57,-37],[-86,-54],[-113,-69]],
 [[-1,-3],[-29,-21],[-57,-38],[-85,-55],[-113,-70]],
 [[-1,-3],[-29,-20],[-57,-37],[-85,-54],[-112,-70]],
 [[-1,-3],[-28,-21],[-56,-39],[-84,-56],[-110,-72]],
 [[-1,-3],[-28,-21],[-55,-40],[-83,-57],[-109,-73]],
 [[-1,-3],[-27,-22],[-54,-41],[-82,-58],[-107,-74]],
 [[-1,-3],[-27,-23],[-54,-42],[-81,-60],[-105,-76]],
 [[-1,-3],[-26,-23],[-53,-43],[-80,-61],[-104,-77]],
 [[-1,-3],[-30,-18],[-59,-34],[-88,-51],[-116,-65]],
 [[-1,-3],[-28,-20],[-56,-39],[-84,-56],[-110,-72]],
 [[-1,-3],[-29,-19],[-57,-37],[-85,-54],[-113,-70]]
];
const posC2Blue = [
 [[-117,-64],[-131,-75],[-142,-90],[-148,-103]],
 [[-116,-66],[-130,-77],[-140,-92],[-145,-104]],
 [[-114,-68],[-128,-79],[-138,-94],[-143,-106]],
 [[-113,-69],[-127,-80],[-137,-95],[-142,-107]],
 [[-113,-70],[-127,-81],[-137,-96],[-141,-108]],
 [[-112,-70],[-126,-81],[-136,-96],[-140,-108]],
 [[-110,-72],[-124,-83],[-134,-98],[-138,-110]],
 [[-109,-73],[-122,-85],[-132,-99],[-136,-111]],
 [[-107,-74],[-120,-86],[-130,-101],[-134,-113]],
 [[-105,-76],[-118,-88],[-128,-102],[-132,-114]],
 [[-104,-77],[-116,-89],[-126,-103],[-130,-116]],
 [[-116,-65],[-130,-76],[-141,-91],[-146,-104]],
 [[-110,-72],[-123,-84],[-133,-98],[-137,-110]],
 [[-113,-70],[-127,-81],[-137,-96],[-141,-108]]
];
const posC2Green = [
 [[-148,-103],[-152,-118],[-153,-137],[-150,-156],[-145,-176],[-139,-196],[-131,-222]],
 [[-145,-104],[-149,-119],[-150,-138],[-147,-157],[-142,-177],[-136,-197],[-128,-220]],
 [[-143,-106],[-147,-120],[-148,-139],[-145,-157],[-140,-177],[-134,-196],[-126,-224]],
 [[-142,-107],[-146,-121],[-146,-140],[-143,-158],[-138,-177],[-132,-196],[-124,-218]],
 [[-141,-108],[-145,-122],[-145,-141],[-142,-159],[-137,-178],[-131,-197],[-122,-222]],
 [[-140,-108],[-143,-122],[-143,-140],[-140,-158],[-135,-177],[-129,-196],[-121,-216]],
 [[-138,-110],[-141,-124],[-140,-142],[-137,-160],[-132,-179],[-126,-198],[-118,-219]],
 [[-136,-111],[-138,-125],[-137,-143],[-134,-161],[-129,-180],[-123,-199],[-115,-214]],
 [[-134,-113],[-136,-127],[-135,-145],[-131,-163],[-126,-182],[-119,-201],[-111,-217]],
 [[-132,-114],[-133,-128],[-132,-146],[-128,-165],[-123,-184],[-116,-202],[-109,-213]],
 [[-130,-116],[-131,-130],[-129,-148],[-125,-167],[-120,-186],[-114,-204],[-108,-212]],
 [[-146,-104],[-150,-119],[-151,-138],[-148,-157],[-143,-177],[-137,-197],[-130,-225]],
 [[-137,-110],[-139,-124],[-139,-142],[-136,-161],[-131,-180],[-124,-200],[-117,-221]],
 [[-141,-108],[-144,-122],[-144,-141],[-141,-159],[-136,-178],[-130,-197],[-123,-213]]
];

// ---------- starting point (marked by the triangle) ----------
const startPoint = [0, 0];

// ---------- axis ranges ----------
const velXRange = [-169, 83];
const velYRange1 = [-237, 9];
const velYRange2 = [-236, 10];
const posXRange = [-207.5, 9.5];
const posYRange1 = [-238, 8];
const posYRange2 = [-236, 9];

const RED = '#e41a1c', BLUE = '#377eb8', GREEN = '#4daf4a';

const chart = echarts.init(document.getElementById('c'), null, {renderer: 'canvas'});

const grids = [
  {left: 11, top: 38, width: 252, height: 246},
  {left: 286, top: 38, width: 217, height: 246},
  {left: 11, top: 293, width: 252, height: 246},
  {left: 286, top: 293, width: 217, height: 245}
].map(g => Object.assign(g, {show: true, borderColor: '#3a3a3a', borderWidth: 1, backgroundColor: 'transparent', containLabel: false}));

const xr = [velXRange, posXRange, velXRange, posXRange];
const yr = [velYRange1, posYRange1, velYRange2, posYRange2];
const xAxes = xr.map((r, i) => ({type: 'value', gridIndex: i, min: r[0], max: r[1], show: false, splitLine: {show: false}}));
const yAxes = yr.map((r, i) => ({type: 'value', gridIndex: i, min: r[0], max: r[1], show: false, splitLine: {show: false}}));

const series = [];
function addLines(g, trajs, color, width, opacity, smooth, z) {
  trajs.forEach(t => series.push({
    type: 'line', xAxisIndex: g, yAxisIndex: g, data: t, symbol: 'none', showSymbol: false,
    smooth: smooth, silent: true, z: z,
    lineStyle: {color: color, width: width, opacity: opacity, cap: 'round', join: 'round'}
  }));
}
// velocity panels
addLines(0, velC1Red, RED, 1.4, 0.7, false, 2);
addLines(0, velC1Blue, BLUE, 1.4, 0.7, false, 3);
addLines(2, velC2Red, RED, 1.4, 0.7, false, 2);
addLines(2, velC2Blue, BLUE, 1.4, 0.7, false, 3);
addLines(2, velC2Green, GREEN, 1.4, 0.7, false, 4);
// position panels
addLines(1, posC1Blue, BLUE, 1.6, 0.55, 0.4, 2);
addLines(1, posC1Red, RED, 1.6, 0.55, 0.3, 3);
addLines(3, posC2Green, GREEN, 1.6, 0.55, 0.4, 2);
addLines(3, posC2Blue, BLUE, 1.6, 0.55, 0.4, 3);
addLines(3, posC2Red, RED, 1.6, 0.55, 0.3, 4);

// dashed reference lines in velocity panels
[0, 2].forEach(g => {
  series.push({type: 'line', xAxisIndex: g, yAxisIndex: g, data: [[startPoint[0], yr[g][0]], [startPoint[0], yr[g][1]]],
    symbol: 'none', silent: true, z: 5, lineStyle: {color: '#000', width: 1.6, type: [6, 4]}});
  series.push({type: 'line', xAxisIndex: g, yAxisIndex: g, data: [[xr[g][0], startPoint[1]], [xr[g][1], startPoint[1]]],
    symbol: 'none', silent: true, z: 5, lineStyle: {color: '#000', width: 1.6, type: [6, 4]}});
});
// start triangles
[0, 1, 2, 3].forEach(g => {
  series.push({type: 'scatter', xAxisIndex: g, yAxisIndex: g, data: [startPoint], symbol: 'triangle',
    symbolSize: [18, 16], symbolOffset: [0, g % 2 === 0 ? -1 : 0], silent: true, z: 10, clip: false,
    itemStyle: {color: '#000', opacity: 1}});
});

const FONT = '25px "Liberation Serif", "DejaVu Serif", serif';
function txt(text, x, y, rot) {
  return {type: 'text', x: x, y: y, rotation: rot || 0, silent: true, z: 20,
    style: {text: text, x: 0, y: 0, font: FONT, fill: '#111', textAlign: 'center', textVerticalAlign: 'middle', align: 'center', verticalAlign: 'middle'}};
}

chart.setOption({
  animation: false,
  backgroundColor: '#fff',
  grid: grids,
  xAxis: xAxes,
  yAxis: yAxes,
  series: series,
  graphic: [
    txt(panelTitles[0], 137, 21),
    txt(panelTitles[1], 395, 21),
    txt(rowLabels[0], 520, 161, -Math.PI / 2),
    txt(rowLabels[1], 520, 417, -Math.PI / 2),
    {type: 'line', silent: true, z: 20, shape: {x1: 272.5, y1: 7, x2: 272.5, y2: 543}, style: {stroke: '#000', lineWidth: 1.5}}
  ]
});
</script>
</body>
</html>
